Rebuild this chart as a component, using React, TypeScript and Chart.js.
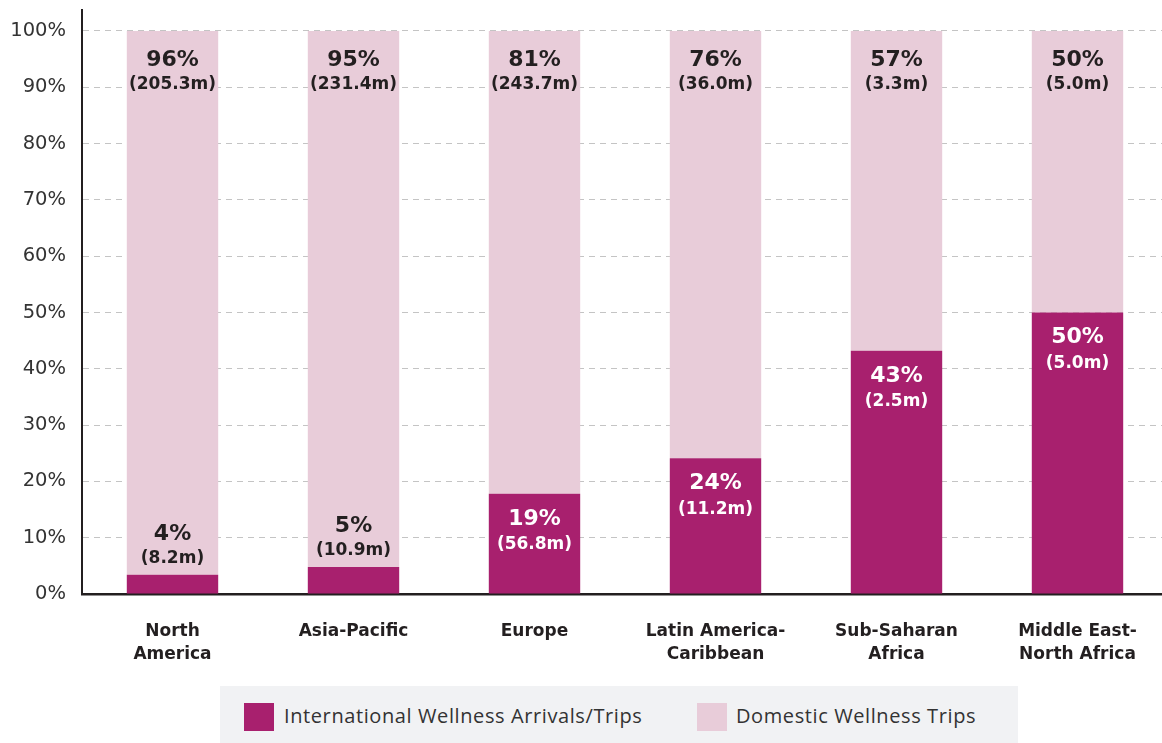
import React, { useEffect, useRef } from "react";
import { Chart, registerables } from "chart.js";

Chart.register(...registerables);

const categories = [
  ["North", "America"],
  ["Asia-Pacific"],
  ["Europe"],
  ["Latin America-", "Caribbean"],
  ["Sub-Saharan", "Africa"],
  ["Middle East-", "North Africa"],
];
const internationalShare = [3.4, 4.8, 17.8, 24.1, 43.2, 50.0];
const domesticShare = [96.6, 95.2, 82.2, 75.9, 56.8, 50.0];
const internationalPctLabels = ["4%", "5%", "19%", "24%", "43%", "50%"];
const internationalTripLabels = ["(8.2m)", "(10.9m)", "(56.8m)", "(11.2m)", "(2.5m)", "(5.0m)"];
const domesticPctLabels = ["96%", "95%", "81%", "76%", "57%", "50%"];
const domesticTripLabels = ["(205.3m)", "(231.4m)", "(243.7m)", "(36.0m)", "(3.3m)", "(5.0m)"];
const yTickValues = [0, 10, 20, 30, 40, 50, 60, 70, 80, 90, 100];
const seriesNames = ["International Wellness Arrivals/Trips", "Domestic Wellness Trips"];

const MAGENTA = "#a8206e";
const PINK = "#e8ccd9";
const DARK = "#231f20";
const FONT = '"DejaVu Sans", sans-serif';

const labelPlugin = {
  id: "barLabels",
  afterDatasetsDraw(chart: any) {
    const ctx = chart.ctx;
    ctx.save();
    ctx.textAlign = "center";
    ctx.textBaseline = "alphabetic";
    const intlMeta = chart.getDatasetMeta(0);
    intlMeta.data.forEach((bar: any, i: number) => {
      const h = bar.base - bar.y;
      const inside = h > 70;
      ctx.fillStyle = inside ? "#ffffff" : DARK;
      const y1 = inside ? bar.y + 31 : bar.y - 35;
      const y2 = inside ? bar.y + 55.5 : bar.y - 12;
      ctx.font = `bold 22px ${FONT}`;
      ctx.fillText(internationalPctLabels[i], bar.x, y1);
      ctx.font = `bold 17px ${FONT}`;
      ctx.fillText(internationalTripLabels[i], bar.x, y2);
    });
    const domMeta = chart.getDatasetMeta(1);
    domMeta.data.forEach((bar: any, i: number) => {
      ctx.fillStyle = DARK;
      ctx.font = `bold 22px ${FONT}`;
      ctx.fillText(domesticPctLabels[i], bar.x, bar.y + 35);
      ctx.font = `bold 17px ${FONT}`;
      ctx.fillText(domesticTripLabels[i], bar.x, bar.y + 58);
    });
    ctx.restore();
  },
};

export default function App() {
  const canvasRef = useRef<HTMLCanvasElement | null>(null);

  useEffect(() => {
    if (!canvasRef.current) return;
    const chart = new Chart(canvasRef.current, {
      type: "bar",
      data: {
        labels: categories,
        datasets: [
          {
            label: seriesNames[0],
            data: internationalShare,
            backgroundColor: MAGENTA,
            borderWidth: 0,
            barPercentage: 0.505,
            categoryPercentage: 1,
          },
          {
            label: seriesNames[1],
            data: domesticShare,
            backgroundColor: PINK,
            borderWidth: 0,
            barPercentage: 0.505,
            categoryPercentage: 1,
          },
        ],
      },
      options: {
        animation: false,
        responsive: false,
        layout: { padding: { top: 10, left: 0, right: 0, bottom: 0 } },
        plugins: {
          legend: { display: false },
          tooltip: { enabled: false },
        },
        scales: {
          x: {
            stacked: true,
            z: 1,
            grid: { display: false, drawTicks: false },
            border: { display: true, color: DARK, width: 2.5 },
            ticks: {
              color: DARK,
              padding: 26,
              font: { family: FONT, size: 17, weight: "bold", lineHeight: 1.35 },
            },
            afterFit(scale: any) {
              scale.height = 86;
              scale.paddingLeft = 0;
              scale.paddingRight = 0;
            },
          },
          y: {
            stacked: true,
            min: 0,
            max: 103.73,
            z: 1,
            afterBuildTicks(scale: any) {
              scale.ticks = yTickValues.map((v) => ({ value: v }));
            },
            afterFit(scale: any) {
              scale.width = 82;
              scale.paddingTop = 0;
              scale.paddingBottom = 0;
            },
            grid: {
              color: "#c4c4c4",
              lineWidth: 1,
              drawTicks: false,
            },
            border: { display: true, color: DARK, width: 2, dash: [6, 5] },
            ticks: {
              color: "#333333",
              padding: 16,
              font: { family: FONT, size: 19.5 },
              callback: (v: any) => `${v}%`,
            },
          },
        },
      },
      plugins: [labelPlugin],
    });
    return () => chart.destroy();
  }, []);

  return (
    <div
      style={{
        position: "absolute",
        left: 0,
        top: 0,
        width: 1162,
        height: 743,
        overflow: "hidden",
        background: "#ffffff",
      }}
    >
      <canvas
        ref={canvasRef}
        width={1168}
        height={680}
        style={{ position: "absolute", left: 0, top: 0, width: 1168, height: 680 }}
      />
      <div
        style={{
          position: "absolute",
          left: 220,
          top: 686,
          width: 798,
          height: 57,
          background: "#f1f2f4",
          fontFamily: '"Open Sans", sans-serif',
          fontSize: 20,
          letterSpacing: "0.6px",
          color: "#333333",
        }}
      >
        <div style={{ position: "absolute", left: 24, top: 17, width: 30, height: 28, background: MAGENTA }} />
        <div style={{ position: "absolute", left: 64, top: 16, height: 28, lineHeight: "28px", whiteSpace: "nowrap" }}>
          {seriesNames[0]}
        </div>
        <div style={{ position: "absolute", left: 477, top: 17, width: 30, height: 28, background: PINK }} />
        <div style={{ position: "absolute", left: 516, top: 16, height: 28, lineHeight: "28px", whiteSpace: "nowrap" }}>
          {seriesNames[1]}
        </div>
      </div>
    </div>
  );
}
